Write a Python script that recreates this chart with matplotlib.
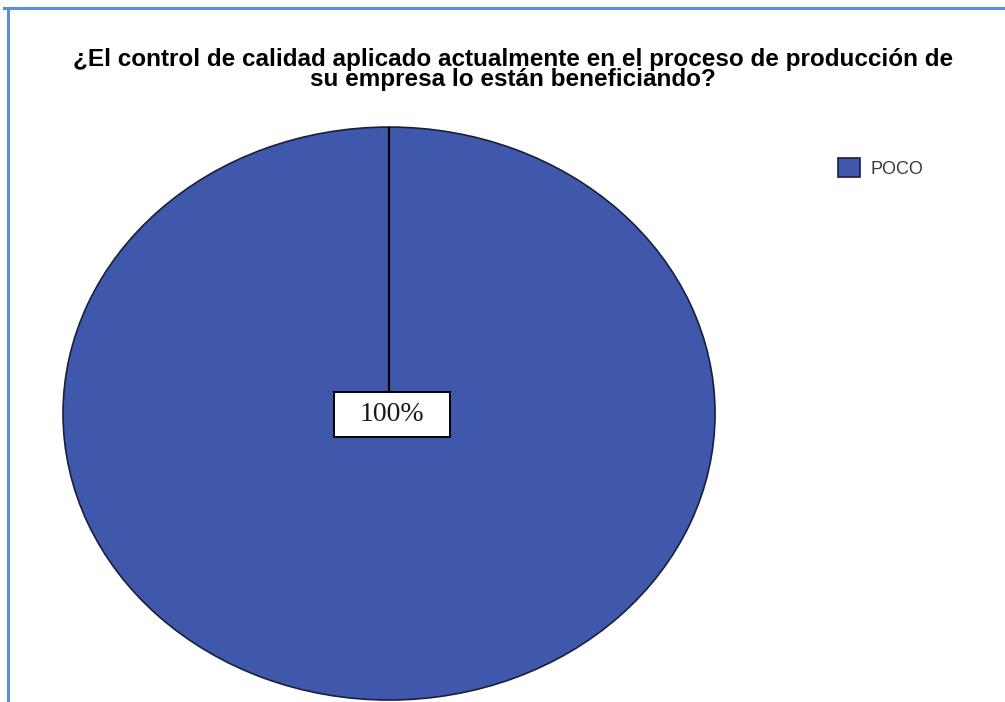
import matplotlib.pyplot as plt
from matplotlib.lines import Line2D
from matplotlib.patches import Rectangle

# survey answer counts
categories = ['POCO']
counts = [100]
pct_labels = ['100%']

title = ('¿El control de calidad aplicado actualmente en el proceso de producción de\n'
         'su empresa lo están beneficiando?')

pie_color = '#3F58AC'
edge_color = '#1A1F3A'
frame_color = '#5A8ED6'

plt.rcParams['font.family'] = ['Liberation Sans', 'DejaVu Sans']

fig = plt.figure(figsize=(10.05, 7.02), dpi=100)
fig.patch.set_facecolor('white')

# pie drawn as an ellipse filling this box
ax = fig.add_axes([0.0627, 0.0028, 0.6488, 0.8162])
wedges, _ = ax.pie(counts, colors=[pie_color], startangle=90, counterclock=False,
                   radius=1.0, center=(0, 0),
                   wedgeprops=dict(edgecolor=edge_color, linewidth=1.2))
ax.set_aspect('auto')
ax.set_xlim(-1.0, 1.0)
ax.set_ylim(-1.0, 1.0)
ax.axis('off')

# radial separator from centre to the top
ax.plot([0, 0], [0, 1], color='black', linewidth=1.6, zorder=3)

# percentage label in a white box
box_w, box_h = 0.356, 0.157
ax.add_patch(Rectangle((0.009 - box_w / 2, -0.004 - box_h / 2), box_w, box_h,
                       facecolor='white', edgecolor='black', linewidth=1.4, zorder=4))
ax.text(0.009, -0.004, pct_labels[0], ha='center', va='center', fontsize=20,
        family='Liberation Serif', color='#1a1a1a', zorder=5)

# two-line title, tight line spacing (anchored on the last baseline)
fig.text(0.5105, 1 - 86 / 702, title, ha='center', va='baseline',
         multialignment='center', fontsize=17.5, weight='bold',
         linespacing=0.82, color='black')

# legend
leg = fig.legend(wedges, categories, loc='center left',
                 bbox_to_anchor=(0.825, 1 - 168 / 702), frameon=False,
                 fontsize=13, handlelength=1.2, handleheight=1.2,
                 handletextpad=0.6, borderpad=0.0, labelcolor='#3a3a3a')

# outer frame lines at top and left
fig.add_artist(Line2D([0.004, 1.0], [0.9886, 0.9886], transform=fig.transFigure,
                      color=frame_color, linewidth=2.2))
fig.add_artist(Line2D([0.008, 0.008], [0.0, 0.9886], transform=fig.transFigure,
                      color=frame_color, linewidth=2.2))

fig.savefig('out.png', dpi=100, facecolor='white')
